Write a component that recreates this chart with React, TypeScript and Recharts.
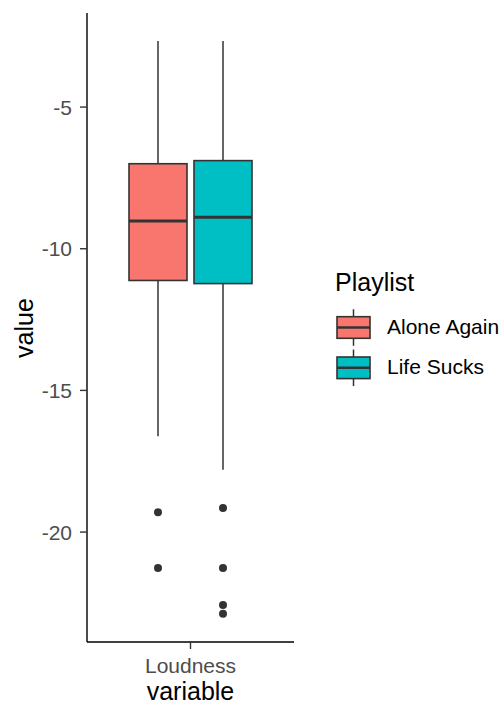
import { BarChart, Bar, XAxis, YAxis, Legend } from 'recharts'

const playlists = ['Alone Again', 'Life Sucks']
const fills = ['#F8766D', '#00BFC4']
const categories = ['Loudness']

// box statistics per playlist
const upperWhisker = [-2.67, -2.67]
const q3 = [-7.0, -6.89]
const median = [-9.02, -8.89]
const q1 = [-11.12, -11.23]
const lowerWhisker = [-16.62, -17.8]
const outliers = [
    [-19.3, -21.27],
    [-19.15, -21.27, -22.57, -22.88],
]

const yTicks = [-20, -15, -10, -5]
const yDomain = [-23.88, -1.68]

const font = '"Liberation Sans", Arial, sans-serif'
const ink = '#333333'

const data = categories.map((name) => {
    const row: any = { name }
    playlists.forEach((_, i) => {
        row[`box${i}`] = [q1[i], q3[i]]
    })
    return row
})

function makeBoxShape(i: number) {
    return (props: any) => {
        const { x, y, width, height } = props
        const top = Math.min(y, y + height)
        const h = Math.abs(height)
        // pixels per unit taken from the bar the library already scaled
        const k = h / (q3[i] - q1[i])
        const toPx = (v: number) => top + (q3[i] - v) * k
        const cx = x + width / 2
        return (
            <g>
                <line x1={cx} x2={cx} y1={toPx(upperWhisker[i])} y2={top} stroke={ink} strokeWidth={1.5} />
                <line x1={cx} x2={cx} y1={top + h} y2={toPx(lowerWhisker[i])} stroke={ink} strokeWidth={1.5} />
                <rect x={x} y={top} width={width} height={h} fill={fills[i]} stroke={ink} strokeWidth={1.6} />
                <line x1={x} x2={x + width} y1={toPx(median[i])} y2={toPx(median[i])} stroke={ink} strokeWidth={3} />
                {outliers[i].map((v, j) => (
                    <circle key={j} cx={cx} cy={toPx(v)} r={4} fill={ink} />
                ))}
            </g>
        )
    }
}

function PlaylistLegend({ payload }: any) {
    const items = payload || []
    return (
        <svg width={172} height={120} style={{ display: 'block', overflow: 'visible' }}>
            <text x={5} y={23} fontSize={25} fontFamily={font} fill="#000">
                Playlist
            </text>
            {items.map((entry: any, i: number) => {
                const boxTop = 48.7 + i * 40.3
                return (
                    <g key={entry.value}>
                        <line x1={23.5} x2={23.5} y1={boxTop - 7.5} y2={boxTop + 21.6 + 7.5} stroke={ink} strokeWidth={1.5} />
                        <rect x={7} y={boxTop} width={33} height={21.6} fill={entry.color} stroke={ink} strokeWidth={1.6} />
                        <line x1={7} x2={40} y1={boxTop + 10.8} y2={boxTop + 10.8} stroke={ink} strokeWidth={2.4} />
                        <text x={57} y={boxTop + 17} fontSize={21} fontFamily={font} fill="#000">
                            {entry.value}
                        </text>
                    </g>
                )
            })}
        </svg>
    )
}

export default function App() {
    return (
        <div style={{ position: 'absolute', left: 0, top: 0, width: 502, height: 706, background: '#fff' }}>
            <BarChart
                width={502}
                height={706}
                data={data}
                margin={{ top: 13, right: 208, bottom: 0, left: 0 }}
                barSize={58}
                barGap={7}
            >
                <XAxis
                    dataKey="name"
                    height={64}
                    axisLine={{ stroke: '#000', strokeWidth: 1.4 }}
                    tickLine={{ stroke: ink, strokeWidth: 1.4 }}
                    tickSize={7}
                    tickMargin={9}
                    tick={{ fill: '#4D4D4D', fontSize: 21, fontFamily: font }}
                    label={{ value: 'variable', position: 'insideBottom', offset: 6, fontSize: 25, fill: '#000', fontFamily: font }}
                />
                <YAxis
                    type="number"
                    width={87}
                    domain={yDomain}
                    ticks={yTicks}
                    allowDataOverflow
                    axisLine={{ stroke: '#000', strokeWidth: 1.4 }}
                    tickLine={{ stroke: ink, strokeWidth: 1.4 }}
                    tickSize={7}
                    tickMargin={8}
                    tick={{ fill: '#4D4D4D', fontSize: 21, fontFamily: font }}
                />
                {playlists.map((p, i) => (
                    <Bar
                        key={p}
                        dataKey={`box${i}`}
                        name={p}
                        fill={fills[i]}
                        shape={makeBoxShape(i)}
                        isAnimationActive={false}
                    />
                ))}
                <Legend
                    layout="vertical"
                    align="center"
                    verticalAlign="middle"
                    content={PlaylistLegend}
                    wrapperStyle={{ left: 330, top: 268, width: 172, height: 120 }}
                />
                <text
                    transform="translate(33,328) rotate(-90)"
                    textAnchor="middle"
                    fontSize={25}
                    fontFamily={font}
                    fill="#000"
                >
                    value
                </text>
            </BarChart>
        </div>
    )
}
